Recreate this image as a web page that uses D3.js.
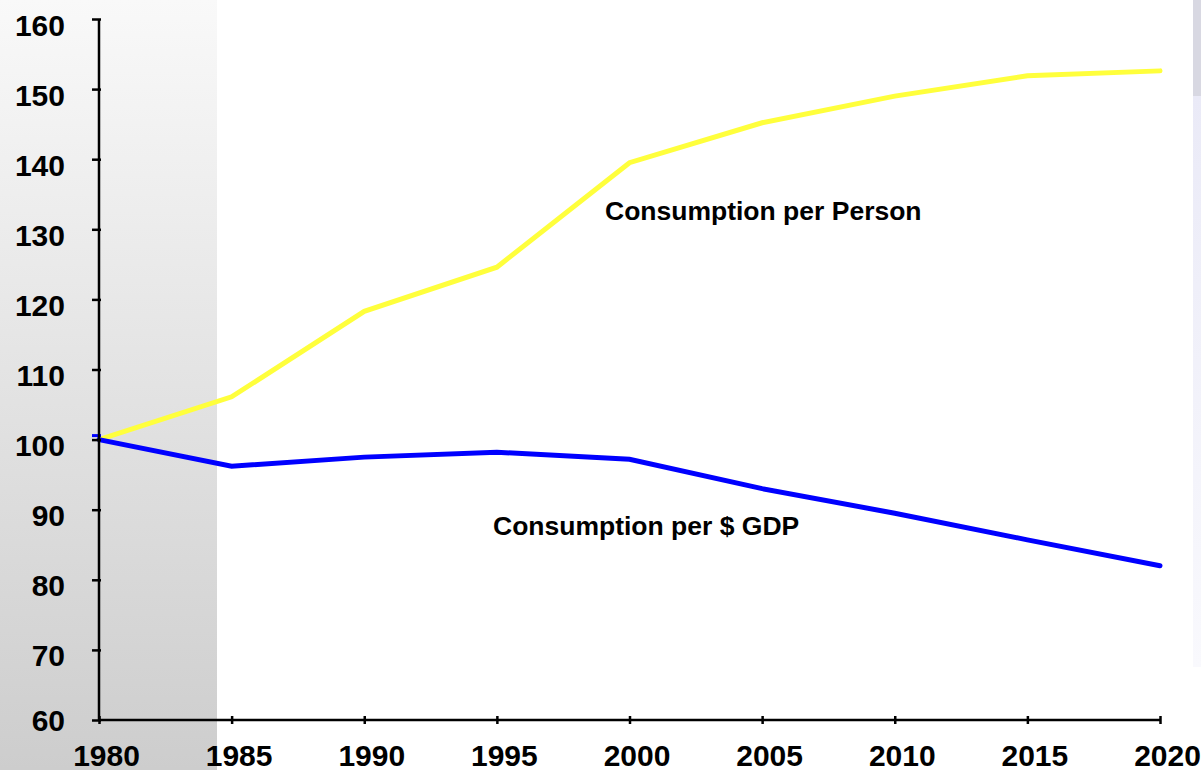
<!DOCTYPE html>
<html>
<head>
<meta charset="utf-8">
<script src="https://cdn.jsdelivr.net/npm/d3@7"></script>
<style>
  html, body { margin: 0; padding: 0; background: #ffffff; }
  svg { display: block; }
  text { font-family: "Liberation Sans", Arial, sans-serif; font-weight: bold; fill: #000; }
</style>
</head>
<body>
<svg id="chart" width="1201" height="770"></svg>
<script>
// ---- data ----
const years = [1980, 1985, 1990, 1995, 2000, 2005, 2010, 2015, 2020];
const perPerson = [100, 106.1, 118.3, 124.6, 139.5, 145.2, 149.0, 151.9, 152.6];
const perGDP = [100, 96.2, 97.5, 98.2, 97.2, 93.0, 89.5, 85.7, 82.0];
const yTicks = [60, 70, 80, 90, 100, 110, 120, 130, 140, 150, 160];
const seriesNames = ["Consumption per Person", "Consumption per $ GDP"];

const svg = d3.select("#chart");
const W = 1201, H = 770;

const x = d3.scaleLinear().domain([1980, 2020]).range([99, 1160]);
const y = d3.scaleLinear().domain([60, 160]).range([720, 19]);

// ---- background decorations ----
const defs = svg.append("defs");
const g1 = defs.append("linearGradient").attr("id", "leftShade")
  .attr("x1", 0).attr("y1", 0).attr("x2", 0).attr("y2", 1);
g1.append("stop").attr("offset", "0%").attr("stop-color", "#f9f9f9");
g1.append("stop").attr("offset", "100%").attr("stop-color", "#cdcdcd");
const g2 = defs.append("linearGradient").attr("id", "rightShade")
  .attr("x1", 0).attr("y1", 0).attr("x2", 0).attr("y2", 1);
g2.append("stop").attr("offset", "0%").attr("stop-color", "#eaeaf7");
g2.append("stop").attr("offset", "100%").attr("stop-color", "#f9f9fd");

svg.append("rect").attr("x", 0).attr("y", 0).attr("width", 217).attr("height", H)
  .attr("fill", "url(#leftShade)");
svg.append("rect").attr("x", 1193).attr("y", 0).attr("width", 8).attr("height", 96)
  .attr("fill", "#d8d8e2");
svg.append("rect").attr("x", 1193).attr("y", 96).attr("width", 8).attr("height", 571)
  .attr("fill", "url(#rightShade)");

// ---- lines ----
const line = d3.line().x((d, i) => x(years[i])).y(d => y(d));

svg.append("path").datum(perPerson)
  .attr("d", line)
  .attr("fill", "none")
  .attr("stroke", "#ffff3c")
  .attr("stroke-width", 5)
  .attr("stroke-linecap", "round")
  .attr("stroke-linejoin", "miter");

svg.append("path").datum(perGDP)
  .attr("d", line)
  .attr("fill", "none")
  .attr("stroke", "#0000ff")
  .attr("stroke-width", 5)
  .attr("stroke-linecap", "round")
  .attr("stroke-linejoin", "miter");

// small series marker stub at the start, left of the axis
svg.append("line")
  .attr("x1", x(1980) - 7).attr("x2", x(1980) + 2)
  .attr("y1", y(perGDP[0]) - 4).attr("y2", y(perGDP[0]) - 4)
  .attr("stroke", "#0000ff").attr("stroke-width", 3);

// ---- axes ----
const yAxis = d3.axisLeft(y).tickValues(yTicks).tickSize(7).tickPadding(0)
  .tickFormat(d3.format("d"));
const gy = svg.append("g").attr("transform", "translate(99,0)").call(yAxis);
gy.select(".domain").attr("stroke", "#000").attr("stroke-width", 2.5)
  .attr("d", `M0,${y(160)}V${y(60)}`);
gy.selectAll(".tick line").attr("stroke", "#000").attr("stroke-width", 2.5)
  .attr("x1", 2).attr("x2", -7);
gy.selectAll(".tick text")
  .attr("x", -34)
  .attr("dy", d => d === 60 ? "10px" : "16px")
  .attr("text-anchor", "end")
  .style("font-size", "30px");

const xAxis = d3.axisBottom(x).tickValues(years).tickSize(4).tickPadding(0)
  .tickFormat(d3.format("d"));
const gx = svg.append("g").attr("transform", "translate(0,720)").call(xAxis);
gx.select(".domain").attr("stroke", "#000").attr("stroke-width", 2.5)
  .attr("d", `M${x(1980)},0H${x(2020)}`);
gx.selectAll(".tick line").attr("stroke", "#000").attr("stroke-width", 2.5)
  .attr("y1", -4).attr("y2", 4);
gx.selectAll(".tick text")
  .attr("y", 46)
  .attr("dy", 0)
  .attr("dx", 7)
  .attr("text-anchor", "middle")
  .style("font-size", "30px");

// ---- annotations ----
svg.append("text").attr("x", 605).attr("y", 220)
  .style("font-size", "26.5px").text(seriesNames[0]);
svg.append("text").attr("x", 493).attr("y", 535)
  .style("font-size", "26.5px").text(seriesNames[1]);
</script>
</body>
</html>
